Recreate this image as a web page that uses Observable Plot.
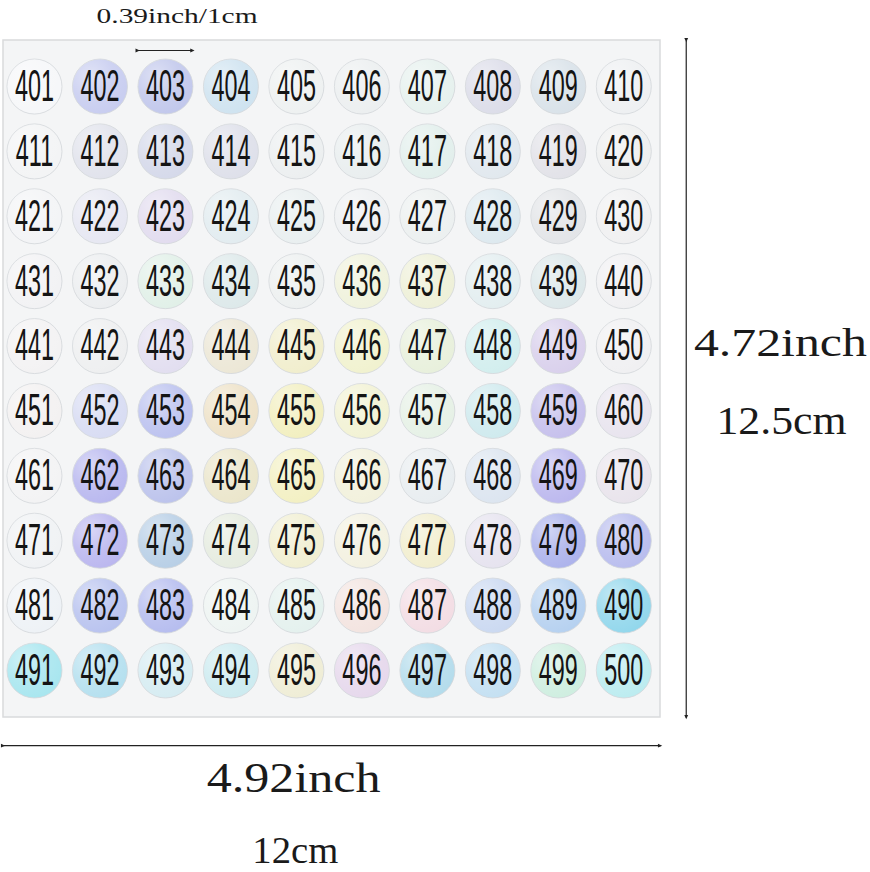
<!DOCTYPE html>
<html>
<head>
<meta charset="utf-8">
<script src="https://cdn.jsdelivr.net/npm/d3@7"></script>
<script src="https://cdn.jsdelivr.net/npm/@observablehq/plot@0.6"></script>
<style>
  html, body { margin: 0; padding: 0; background: #fff; }
  #chart svg { display: block; }
</style>
</head>
<body>
<div id="chart"></div>
<script>
// ---- data ----
const stickerNumbers = d3.range(401, 501);          // 401 … 500
const columnsPerRow = 10;
const stickerTints = [
  "#f6f7f9","#c8cdf0","#c2c8ec","#cfe3f0","#eef1f1","#eceff0","#e6f1ee","#dcdde9","#d9e2e9","#eef0f2",
  "#f3f4f5","#e1e3ec","#d5d9ea","#dee0ea","#eceff0","#e9eeef","#e2efec","#e1e8ee","#e2e2e8","#eeefef",
  "#f3f4f6","#e6e7f2","#e2dcef","#e2ecf0","#e9eff0","#eef0f2","#ecf0f0","#dde9ef","#e3e5e8","#f0f0f1",
  "#f2f2f4","#eceef0","#e1f0e8","#dde9ea","#edf0f0","#f0f2dc","#eef0d8","#e3eef0","#dde8ea","#f0f0f2",
  "#f3f2f3","#eeeff0","#e2def0","#ece7d6","#f1eecd","#f1f2cf","#e8f0dc","#d2eeee","#d9d0ec","#f0f0f2",
  "#f3f1f1","#d8dcf3","#bcc2ef","#eee2c8","#f2efc0","#f2f2d4","#e6f1e6","#cfeaee","#c6c0ec","#e8e4ee",
  "#f3f3f4","#b9b8ef","#bcc3ec","#ebe6cb","#f3f0c3","#f2f1dc","#e8edf0","#dce5f0","#bcb8ee","#e9e4ec",
  "#f0f2f4","#bbb7ef","#b8cfe6","#e6ece0","#f1efd2","#f3f1e0","#f2eecf","#e6e3ef","#adb3ec","#b9bdee",
  "#eef2f6","#b9c3ef","#b6bdef","#eef4f2","#e4f1ee","#f3e4e0","#f3dde4","#cbd9f1","#b6d1f0","#92d7ec",
  "#a8e6ef","#b5e0ef","#d6ecf2","#cdebf0","#efedd6","#e6d8ec","#b4dcec","#c4e0f2","#cfeee0","#bcecf0"
];
const sheetWidthCm = 12;
const sheetHeightCm = 12.5;
const stickerDiameterCm = 1;
const dimensionLabels = ["0.39inch/1cm", "4.72inch", "12.5cm", "4.92inch", "12cm"];

// ---- layout (cm) ----
const pitchX = 1.196, pitchY = 1.198, firstX = 0.566, firstY = 0.85;
const stickers = stickerNumbers.map((n, i) => ({
  label: String(n),
  col: i % columnsPerRow,
  row: Math.floor(i / columnsPerRow),
  tint: stickerTints[i]
}));
const sx = d => firstX + d.col * pitchX;
const sy = d => firstY + d.row * pitchY;

const sheet = [{x1: 0, x2: sheetWidthCm, y1: 0, y2: sheetHeightCm}];
const sample = stickers[2];
const arrows = [
  {x1: sx(sample) - stickerDiameterCm / 2, x2: sx(sample) + stickerDiameterCm / 2, y1: 0.185, y2: 0.185},
  {x1: sheetWidthCm + 0.47, x2: sheetWidthCm + 0.47, y1: 0, y2: sheetHeightCm},
  {x1: 0, x2: sheetWidthCm, y1: sheetHeightCm + 0.52, y2: sheetHeightCm + 0.52}
];
const labelLayout = [
  {text: dimensionLabels[0], x: 3.17, y: -0.46, size: 22, len: 161},
  {text: dimensionLabels[1], x: 14.19, y: 5.59, size: 40, len: 173},
  {text: dimensionLabels[2], x: 14.21, y: 7.02, size: 40, len: 130},
  {text: dimensionLabels[3], x: 5.30, y: 13.63, size: 42, len: 174},
  {text: dimensionLabels[4], x: 5.33, y: 14.96, size: 38, len: 86}
];

const plot = Plot.plot({
  width: 870,
  height: 872,
  margin: 0,
  x: {domain: [0, sheetWidthCm], range: [3, 660], axis: null},
  y: {domain: [0, sheetHeightCm], range: [40, 717], axis: null},
  color: {type: "identity"},
  style: {background: "#ffffff"},
  marks: [
    Plot.rect(sheet, {x1: "x1", x2: "x2", y1: "y1", y2: "y2", fill: "#f4f5f6", stroke: "#d9dadc", strokeWidth: 1.5}),
    Plot.dot(stickers, {x: sx, y: sy, r: 27.5, fill: "tint", stroke: "#d2d5d9", strokeWidth: 0.8}),
    Plot.dot(stickers, {x: sx, y: sy, r: 27.5, fill: "url(#sheen)", stroke: "none"}),
    Plot.text(stickers, {x: sx, y: sy, text: "label", fontSize: 45, fontFamily: "'Liberation Sans', Arial, sans-serif", fill: "#141414"}),
    Plot.link(arrows, {x1: "x1", y1: "y1", x2: "x2", y2: "y2", stroke: "#222", strokeWidth: 1.2, markerStart: "arrow", markerEnd: "arrow"}),
    Plot.text(labelLayout, {x: "x", y: "y", text: "text", fontSize: d => d.size, fontFamily: "'Liberation Serif', 'DejaVu Serif', serif", fill: "#1a1a1a"})
  ]
});

// holographic sheen gradient
const svg = d3.select(plot);
const defs = svg.insert("defs", ":first-child");
const g = defs.append("radialGradient").attr("id", "sheen").attr("cx", 0.32).attr("cy", 0.3).attr("r", 0.75);
g.append("stop").attr("offset", "0%").attr("stop-color", "#fff").attr("stop-opacity", 0.45);
g.append("stop").attr("offset", "55%").attr("stop-color", "#fff").attr("stop-opacity", 0.12);
g.append("stop").attr("offset", "100%").attr("stop-color", "#fff").attr("stop-opacity", 0);

// filled triangular arrowheads
svg.selectAll("marker path")
  .attr("d", "M-3.2,-2.4L2.2,0L-3.2,2.4Z")
  .attr("fill", "#222")
  .attr("stroke", "none");

// condense the numerals (narrow face) and fit the dimension labels to their widths
const lenByText = new Map(labelLayout.map(d => [d.text, d.len]));
svg.selectAll("text").each(function () {
  const t = this.textContent;
  if (/^\d{3}$/.test(t)) {
    const tr = this.getAttribute("transform") || "";
    this.setAttribute("transform", tr + " scale(0.52,1)");
  } else if (lenByText.has(t)) {
    this.setAttribute("textLength", lenByText.get(t));
    this.setAttribute("lengthAdjust", "spacingAndGlyphs");
  }
});

document.getElementById("chart").appendChild(plot);
</script>
</body>
</html>
